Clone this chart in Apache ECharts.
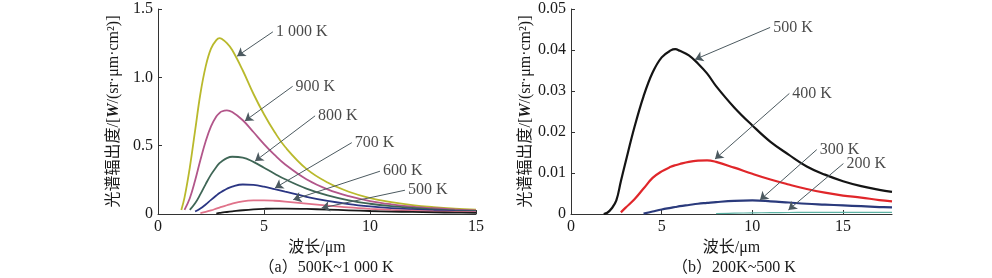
<!DOCTYPE html>
<html><head><meta charset="utf-8">
<script src="https://cdn.jsdelivr.net/npm/echarts@6/dist/echarts.min.js"></script>
<style>html,body{margin:0;padding:0;background:#fff}#c{width:992px;height:278px}</style>
</head><body><div id="c"></div>
<script>
// ---------- Panel (a): 500K ~ 1000K ----------
const wlA = [1.1,1.25,1.5,1.75,2,2.25,2.5,2.75,2.9,3,3.25,3.5,4,4.5,5,5.5,6,7,8,9,10,11,12,13,14,15];
const a1000 = [0.03,0.12,0.34,0.61,0.88,1.08,1.21,1.272,1.287,1.282,1.25,1.20,1.05,0.88,0.73,0.60,0.49,0.33,0.23,0.163,0.117,0.087,0.065,0.05,0.039,0.031];
const a900  = [null,0.03,0.115,0.245,0.395,0.533,0.641,0.713,0.738,0.750,0.758,0.746,0.686,0.60,0.512,0.432,0.362,0.254,0.180,0.130,0.095,0.071,0.054,0.042,0.033,0.026];
const a800  = [null,null,0.03,0.078,0.145,0.219,0.288,0.344,0.372,0.385,0.409,0.419,0.413,0.381,0.339,0.295,0.254,0.186,0.136,0.100,0.075,0.057,0.044,0.034,0.027,0.022];
const a700  = [null,null,null,0.018,0.040,0.070,0.103,0.135,0.153,0.163,0.185,0.201,0.216,0.213,0.200,0.182,0.163,0.126,0.096,0.073,0.056,0.043,0.034,0.027,0.021,0.017];
const a600  = [null,null,null,null,0.007,0.015,0.026,0.039,0.047,0.052,0.064,0.076,0.092,0.099,0.100,0.097,0.091,0.076,0.061,0.048,0.038,0.030,0.024,0.019,0.016,0.013];
const a500  = [null,null,null,null,null,null,null,0.003,0.008,0.0105,0.0147,0.019,0.0275,0.034,0.038,0.040,0.040,0.037,0.032,0.027,0.022,0.018,0.015,0.012,0.010,0.0085];
const labelsA = ['1 000 K','900 K','800 K','700 K','600 K','500 K'];
const coloursA = ['#b9b92c','#b2568a','#3f6656','#2b3683','#e0728a','#1a1a1a'];
const arrowTailA = [[5.42,1.333],[6.35,0.934],[7.41,0.718],[9.14,0.522],[10.47,0.313],[11.65,0.174]];
const arrowHeadA = [[3.73,1.155],[4.10,0.681],[4.58,0.387],[5.52,0.191],[6.38,0.105],[7.72,0.044]];
const yTicksA = [0,0.5,1.0,1.5];
const xTicks = [0,5,10,15];

// ---------- Panel (b): 200K ~ 500K ----------
const wlB = [1.8,2,2.25,2.5,2.75,3,3.5,4,4.5,5,5.5,5.75,6,6.5,7,7.5,8,9,10,11,12,13,14,15,16,17,17.7];
const b500 = [0,0.0003,0.0014,0.0033,0.0080,0.0125,0.0212,0.0287,0.0345,0.0382,0.0399,0.0402,0.0398,0.0387,0.0367,0.0343,0.0312,0.0260,0.0216,0.0176,0.0145,0.0116,0.0096,0.0080,0.0068,0.0059,0.0054];
const b400 = [null,null,null,null,0.0004,0.0015,0.0036,0.0062,0.0088,0.0104,0.0115,0.0119,0.0122,0.0127,0.0130,0.0131,0.0127,0.0113,0.0098,0.0084,0.0072,0.0061,0.0052,0.0045,0.0040,0.0034,0.0031];
const b300 = [null,null,null,null,null,null,null,0.0001,0.0006,0.0011,0.0015,0.0017,0.0019,0.0022,0.0025,0.0027,0.0029,0.0032,0.0033,0.0031,0.0028,0.0025,0.0023,0.0021,0.0019,0.0017,0.0016];
const b200 = [null,null,null,null,null,null,null,null,null,null,null,null,null,null,null,null,0.0001,0.0002,0.00028,0.00033,0.00037,0.0004,0.00041,0.00041,0.0004,0.00039,0.00038];
const labelsB = ['500 K','400 K','300 K','200 K'];
const coloursB = ['#141414','#e0262a','#2a3a7c','#5db3a5'];
const arrowTailB = [[10.98,0.0455],[12.04,0.0294],[13.55,0.0157],[15.02,0.0123]];
const arrowHeadB = [[6.84,0.0377],[7.94,0.0134],[10.42,0.0034],[11.99,0.0010]];
const yTicksB = [0,0.01,0.02,0.03,0.04,0.05];

const SERIF = "'Liberation Serif','Times New Roman','Noto Sans CJK SC',serif";
const TXT = '#1a1a1a';
const pairs = (xs, ys) => xs.map((x,i)=>[x, ys[i]]).filter(p=>p[1]!==null);

function axisX(idx, max){
  return {
    type:'value', gridIndex: idx, min:0, max:max, interval:5,
    name:'波长/μm', nameLocation:'middle', nameGap:23,
    nameTextStyle:{fontFamily:SERIF, fontSize:16, color:TXT},
    axisLine:{show:true, onZero:false, lineStyle:{color:'#333', width:1}},
    axisTick:{show:true, inside:true, length:4, lineStyle:{color:'#333'}, customValues:xTicks},
    axisLabel:{show:true, margin:5, fontFamily:SERIF, fontSize:16, color:TXT, customValues:xTicks},
    splitLine:{show:false}
  };
}
function axisY(idx, max, interval, digits, ticks){
  return {
    type:'value', gridIndex: idx, min:0, max:max, interval:interval,
    name:'光谱辐出度/[{w|W}/(sr·μm·cm²)]', nameLocation:'middle', nameGap:36, nameRotate:90,
    nameTextStyle:{fontFamily:SERIF, fontSize:16, color:TXT,
      rich:{w:{fontFamily:SERIF, fontSize:16, fontStyle:'italic', fontWeight:'bold', color:TXT}}},
    axisLine:{show:true, onZero:false, lineStyle:{color:'#333', width:1}},
    axisTick:{show:true, inside:true, length:4, lineStyle:{color:'#333'}, customValues:ticks},
    axisLabel:{show:true, margin:5, fontFamily:SERIF, fontSize:16, color:TXT, customValues:ticks,
      formatter: v => v===0 ? '0' : v.toFixed(digits)},
    splitLine:{show:false}
  };
}

function arrow(tail, head){
  return {silent:true, symbol:['none','arrow'], symbolSize:8, animation:false,
    lineStyle:{color:'#4c5a60', width:1, type:'solid'}, label:{show:false},
    emphasis:{disabled:true},
    data:[[{coord:tail, itemStyle:{color:'#1a1a1a'}},{coord:head, itemStyle:{color:'#1a1a1a'}}]]};
}

const series = [];
[a1000,a900,a800,a700,a600,a500].forEach((arr,i)=>{
  series.push({
    type:'line', xAxisIndex:0, yAxisIndex:0, smooth:0.4, showSymbol:false, symbol:'none',
    data: pairs(wlA, arr), lineStyle:{color:coloursA[i], width:1.8}, z:2,
    markLine: arrow(arrowTailA[i], arrowHeadA[i])
  });
});
[b500,b400,b300,b200].forEach((arr,i)=>{
  series.push({
    type:'line', xAxisIndex:1, yAxisIndex:1, smooth:0.4, showSymbol:false, symbol:'none',
    data: pairs(wlB, arr), lineStyle:{color:coloursB[i], width: i===3 ? 1.2 : 2.2}, z:2,
    markLine: arrow(arrowTailB[i], arrowHeadB[i])
  });
});
// text labels at arrow tails
series.push({
  type:'scatter', xAxisIndex:0, yAxisIndex:0, symbolSize:0, silent:true,
  data: arrowTailA.map((p,i)=>({value:p, label:{formatter:labelsA[i]}})),
  label:{show:true, position:'right', distance:3, fontFamily:SERIF, fontSize:16, color:TXT}
});
series.push({
  type:'scatter', xAxisIndex:1, yAxisIndex:1, symbolSize:0, silent:true,
  data: arrowTailB.map((p,i)=>({value:p, label:{formatter:labelsB[i]}})),
  label:{show:true, position:'right', distance:3, fontFamily:SERIF, fontSize:16, color:TXT}
});

const chart = echarts.init(document.getElementById('c'), null, {renderer:'canvas'});
chart.setOption({
  animation:false,
  backgroundColor:'#fff',
  title:[
    {text:'（a）500K~1 000 K', left:321, top:255, textAlign:'center',
      textStyle:{fontFamily:SERIF, fontSize:16, fontWeight:'normal', color:TXT}},
    {text:'（b）200K~500 K', left:729, top:255, textAlign:'center',
      textStyle:{fontFamily:SERIF, fontSize:16, fontWeight:'normal', color:TXT}}
  ],
  grid:[
    {left:158, top:9, width:318, height:205},
    {left:571, top:9, width:321, height:205}
  ],
  xAxis:[axisX(0,15), axisX(1,17.7)],
  yAxis:[axisY(0,1.5,0.5,1,yTicksA), axisY(1,0.05,0.01,2,yTicksB)],
  series: series
});
</script></body></html>
